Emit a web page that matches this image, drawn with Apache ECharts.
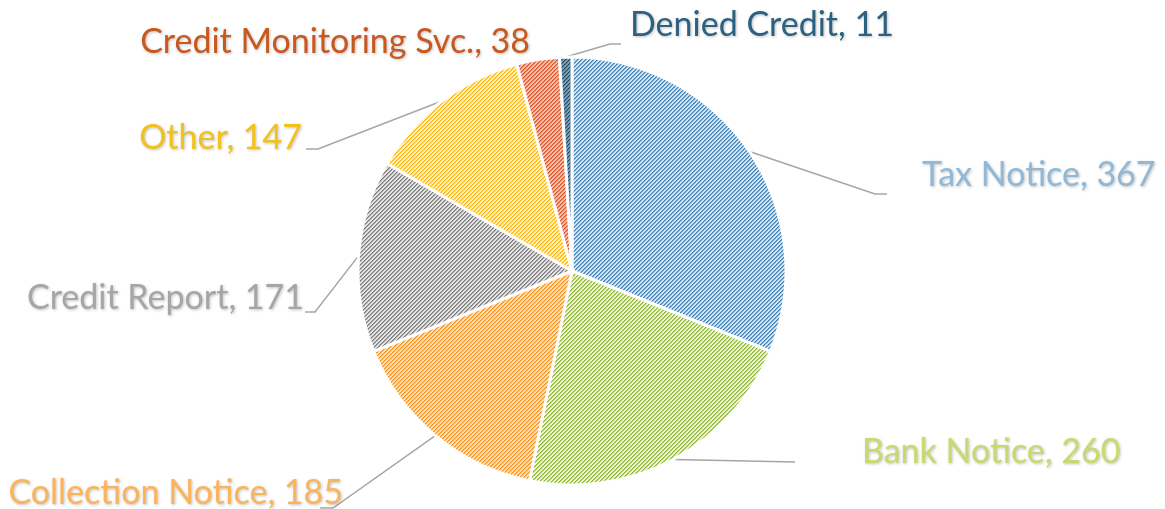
<!DOCTYPE html>
<html>
<head>
<meta charset="utf-8">
<script src="https://cdn.jsdelivr.net/npm/echarts@6/dist/echarts.min.js"></script>
<style>
html,body{margin:0;padding:0;background:#fff;}
#chart{width:1165px;height:509px;}
</style>
</head>
<body>
<div id="chart"></div>
<script>
// ---- data ----
const categories = ['Tax Notice', 'Bank Notice', 'Collection Notice', 'Credit Report', 'Other', 'Credit Monitoring Svc.', 'Denied Credit'];
const values = [367, 260, 185, 171, 147, 38, 11];

// ---- styles ----
const stripeFg = ['#3f80b4', '#8fb535', '#f7921a', '#7a7a7a', '#fbb60f', '#d9532a', '#23506e'];
const stripeBg = ['#d3e5f2', '#eef4d6', '#fde0b8', '#e3e3e3', '#fff0bf', '#f5c1aa', '#7d9db3'];
const labelColors = ['#8fb9d8', '#c8da6e', '#fbb45a', '#a6a6a6', '#f2c11a', '#c8581f', '#2d6182'];

// label layout (x, y, align) and leader line knee / end points
const labelGeom = [
  {x: 922, y: 175, align: 'left',  knee: [875, 194], end: [887, 194]},
  {x: 862, y: 452, align: 'left',  knee: [795, 462], end: [795, 462]},
  {x: 343, y: 493, align: 'right', knee: [333, 508], end: [320, 508]},
  {x: 304, y: 298, align: 'right', knee: [315, 312], end: [305, 312]},
  {x: 302, y: 138, align: 'right', knee: [318, 149], end: [306, 149]},
  {x: 530, y: 42,  align: 'right', knee: null, end: null},
  {x: 630, y: 25,  align: 'left',  knee: [610, 44], end: [621, 44]}
];

function hexToRgb(h){h=h.replace('#','');return [parseInt(h.substr(0,2),16),parseInt(h.substr(2,2),16),parseInt(h.substr(4,2),16)];}
function makePattern(fg, bg){
  const n = 4;
  const c = document.createElement('canvas');
  c.width = n; c.height = n;
  const ctx = c.getContext('2d');
  const img = ctx.createImageData(n, n);
  const f = hexToRgb(fg), b = hexToRgb(bg);
  for (let y = 0; y < n; y++) {
    for (let x = 0; x < n; x++) {
      const k = (x + y) % n;
      const t = k === 0 ? 1 : (k === 1 ? 0.55 : 0);
      const i = (y * n + x) * 4;
      for (let j = 0; j < 3; j++) img.data[i + j] = Math.round(f[j] * t + b[j] * (1 - t));
      img.data[i + 3] = 255;
    }
  }
  ctx.putImageData(img, 0, 0);
  return c;
}

const seriesData = categories.map((name, i) => ({
  name: name,
  value: values[i],
  itemStyle: {color: {image: makePattern(stripeFg[i], stripeBg[i]), repeat: 'repeat'}},
  label: {color: labelColors[i]},
  labelLine: {show: labelGeom[i].end !== null}
}));

const chart = echarts.init(document.getElementById('chart'), null, {renderer: 'canvas'});
chart.setOption({
  animation: false,
  backgroundColor: '#ffffff',
  series: [{
    type: 'pie',
    center: [572, 271],
    radius: 214,
    startAngle: 90,
    clockwise: true,
    avoidLabelOverlap: false,
    itemStyle: {borderColor: '#ffffff', borderWidth: 3},
    label: {
      show: true,
      position: 'outside',
      formatter: '{b}, {c}',
      fontFamily: 'Lato',
      fontSize: 34,
      textShadowColor: 'rgba(0,0,0,0.25)',
      textShadowBlur: 3,
      textShadowOffsetX: 1,
      textShadowOffsetY: 1
    },
    labelLine: {
      show: true,
      length: 20,
      length2: 10,
      lineStyle: {color: '#a6a6a6', width: 1.5}
    },
    labelLayout: function (params) {
      const g = labelGeom[params.dataIndex];
      const out = {x: g.x, y: g.y, align: g.align, verticalAlign: 'middle'};
      if (g.end && params.labelLinePoints) {
        const start = params.labelLinePoints[0];
        out.labelLinePoints = [start, g.knee, g.end];
      }
      return out;
    },
    emphasis: {disabled: true},
    data: seriesData
  }]
});
</script>
</body>
</html>
